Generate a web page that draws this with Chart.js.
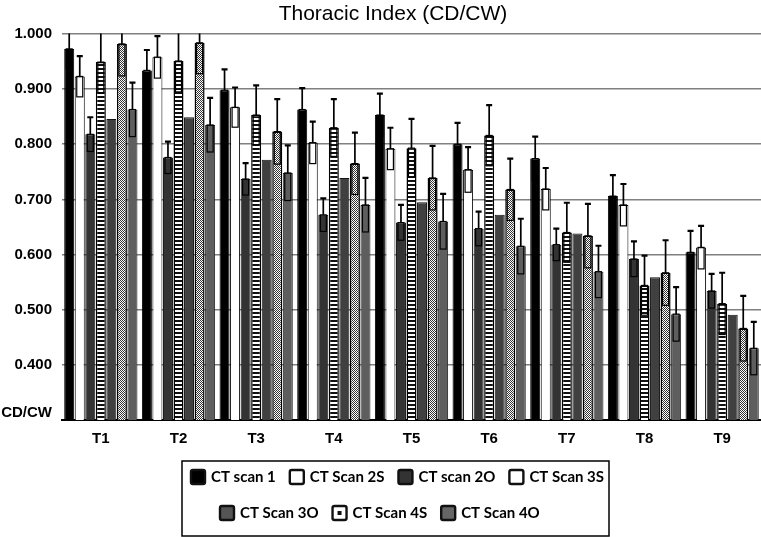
<!DOCTYPE html>
<html><head><meta charset="utf-8">
<script src="https://cdn.jsdelivr.net/npm/chart.js@4.4.1/dist/chart.umd.min.js"></script>
<style>html,body{margin:0;padding:0;background:#fff;}#wrap{width:761px;height:537px;}</style>
</head><body><div id="wrap"><canvas id="c" width="761" height="537"></canvas></div>
<script>
const categories = ['T1','T2','T3','T4','T5','T6','T7','T8','T9'];
const seriesLabels = ['CT scan 1','CT Scan 2S','CT scan 2O','CT Scan 3S','CT Scan 3O','CT Scan 4S','CT Scan 4O'];
const yTicks = [0.3, 0.4, 0.5, 0.6, 0.7, 0.8, 0.9, 1.0];
const scan1    = [0.973, 0.934, 0.898, 0.863, 0.853, 0.800, 0.774, 0.706, 0.604];
const scan1Err = [0.035, 0.037, 0.038, 0.039, 0.039, 0.039, 0.040, 0.038, 0.039];
const scan2S    = [0.923, 0.958, 0.867, 0.803, 0.792, 0.754, 0.719, 0.690, 0.613];
const scan2SErr = [0.037, 0.038, 0.036, 0.038, 0.038, 0.041, 0.038, 0.038, 0.039];
const scan2O    = [0.818, 0.776, 0.737, 0.672, 0.658, 0.647, 0.618, 0.592, 0.534];
const scan2OErr = [0.031, 0.029, 0.029, 0.030, 0.032, 0.031, 0.029, 0.032, 0.031];
const scan3S    = [0.949, 0.951, 0.853, 0.830, 0.793, 0.816, 0.640, 0.544, 0.511];
const scan3SErr = [0.056, 0.056, 0.054, 0.052, 0.053, 0.055, 0.054, 0.054, 0.056];
const scan3O    = [0.846, 0.849, 0.772, 0.739, 0.695, 0.672, 0.638, 0.559, 0.491];
const scan4S    = [0.982, 0.984, 0.823, 0.765, 0.739, 0.718, 0.634, 0.567, 0.466];
const scan4SErr = [0.058, 0.056, 0.059, 0.056, 0.058, 0.056, 0.058, 0.059, 0.059];
const scan4O    = [0.863, 0.835, 0.748, 0.690, 0.660, 0.615, 0.569, 0.492, 0.430];
const scan4OErr = [0.049, 0.049, 0.050, 0.049, 0.050, 0.050, 0.047, 0.049, 0.048];

function makePattern(w, h, draw) {
  const c = document.createElement('canvas'); c.width = w; c.height = h;
  const x = c.getContext('2d'); x.fillStyle = '#fff'; x.fillRect(0,0,w,h); draw(x);
  return document.getElementById('c').getContext('2d').createPattern(c, 'repeat');
}
const stripePattern = makePattern(4, 4, x => { x.fillStyle = '#111'; x.fillRect(0,0,4,2); });
const dotPattern = makePattern(2, 2, x => { x.fillStyle = '#333'; x.fillRect(0,0,1,1); x.fillRect(1,1,1,1); });

const seriesValues = [scan1, scan2S, scan2O, scan3S, scan3O, scan4S, scan4O];
const seriesErrors = [scan1Err, scan2SErr, scan2OErr, scan3SErr, null, scan4SErr, scan4OErr];
const fills = ['#000', '#fff', '#333', stripePattern, '#404040', dotPattern, '#5e5e5e'];
const legendFills = ['#000', '#fff', '#333', '#fff', '#555', '#fff', '#666'];
const borders = ['#000', '#000', '#111', '#000', '#111', '#000', '#222'];
const borderWidths = [1, 1, 1, 1.5, 1, 1.5, 1];

const errorBarPlugin = {
  id: 'errorBars',
  afterDatasetsDraw(chart) {
    const ctx = chart.ctx, ys = chart.scales.y, area = chart.chartArea;
    ctx.save();
    ctx.beginPath(); ctx.rect(area.left, area.top - 0.5, area.right - area.left, area.bottom - area.top + 1); ctx.clip();
    ctx.strokeStyle = '#000';
    chart.data.datasets.forEach((ds, di) => {
      if (!ds.errors) return;
      const meta = chart.getDatasetMeta(di);
      meta.data.forEach((el, i) => {
        const v = ds.data[i], e = ds.errors[i];
        const yT = ys.getPixelForValue(v + e), yL = ys.getPixelForValue(v - e), yV = el.y;
        const hw = el.width * 0.3;
        ctx.lineWidth = 1.7;
        ctx.beginPath(); ctx.moveTo(el.x, yV); ctx.lineTo(el.x, yT); ctx.stroke();
        ctx.lineWidth = 2.2;
        ctx.beginPath(); ctx.moveTo(el.x - hw, yT); ctx.lineTo(el.x + hw, yT); ctx.stroke();
        ctx.lineWidth = 1.2;
        ctx.strokeRect(el.x - hw, yV, hw * 2, yL - yV);
      });
    });
    ctx.restore();
  }
};

const decorPlugin = {
  id: 'decor',
  afterDraw(chart) {
    const ctx = chart.ctx;
    ctx.save();
    ctx.fillStyle = '#000';
    ctx.font = '21px "Liberation Sans", Arial, sans-serif';
    ctx.textAlign = 'center'; ctx.textBaseline = 'alphabetic';
    ctx.fillText('Thoracic Index (CD/CW)', 393, 20);
    ctx.lineWidth = 1.5; ctx.strokeStyle = '#000';
    ctx.strokeRect(182, 461, 427, 75);
    ctx.font = 'bold 15px Lato, sans-serif';
    ctx.textAlign = 'left'; ctx.textBaseline = 'middle';
    const rows = [{start: 190, y: 477, items: [0,1,2,3]}, {start: 219, y: 513, items: [4,5,6]}];
    rows.forEach(r => {
      let x = r.start;
      r.items.forEach(di => {
        const ds = chart.data.datasets[di];
        ctx.fillStyle = legendFills[di];
        ctx.beginPath(); ctx.roundRect(x + 1, r.y - 7, 14, 14, 2); ctx.fill();
        ctx.lineWidth = 2.4; ctx.strokeStyle = '#111'; ctx.stroke();
        if (di === 5) { ctx.fillStyle = '#111'; ctx.fillRect(x + 6, r.y - 2, 4, 4); }
        ctx.fillStyle = '#000';
        ctx.fillText(ds.label, x + 21, r.y + 0.5);
        x += 21 + ctx.measureText(ds.label).width + 13;
      });
    });
    ctx.restore();
  }
};

new Chart(document.getElementById('c'), {
  type: 'bar',
  data: {
    labels: categories,
    datasets: seriesLabels.map((lab, i) => ({
      label: lab,
      data: seriesValues[i],
      errors: seriesErrors[i],
      backgroundColor: fills[i],
      borderColor: borders[i],
      borderWidth: borderWidths[i],
      categoryPercentage: 0.95,
      barPercentage: 0.95
    }))
  },
  options: {
    responsive: false,
    animation: false,
    layout: { padding: { top: 34, left: 0, right: 0, bottom: 0 } },
    plugins: { legend: { display: false }, title: { display: false }, tooltip: { enabled: false } },
    scales: {
      x: {
        grid: { display: false, drawTicks: false },
        border: { color: '#000', width: 2 },
        ticks: { color: '#000', padding: 10, font: { family: '"Liberation Sans", Arial, sans-serif', size: 15, weight: 'bold' } },
        afterFit: s => { s.height = 117; }
      },
      y: {
        min: 0.3, max: 1.0,
        afterBuildTicks: s => { s.ticks = yTicks.map(v => ({ value: v })); },
        ticks: {
          color: '#000', padding: 10,
          font: { family: '"Liberation Sans", Arial, sans-serif', size: 15, weight: 'bold', lineHeight: 1 },
          callback: v => Math.abs(v - 0.3) < 1e-6 ? ['CD/CW', ''] : Number(v).toFixed(3)
        },
        grid: { color: '#808080', lineWidth: 1.6, drawTicks: false },
        border: { display: false },
        afterFit: s => { s.width = 62; }
      }
    }
  },
  plugins: [errorBarPlugin, decorPlugin]
});
</script>
</body></html>
